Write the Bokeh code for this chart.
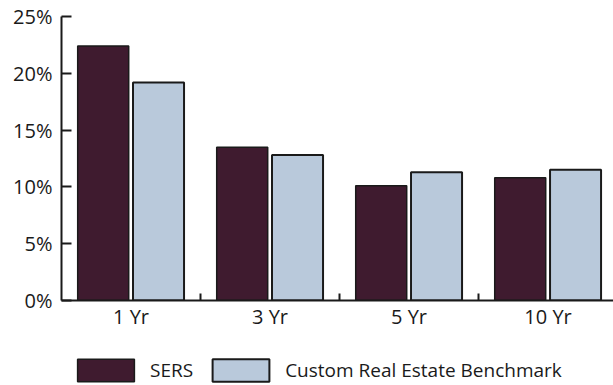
from bokeh.plotting import figure
from bokeh.layouts import column
from bokeh.models import ColumnDataSource, Range1d, FixedTicker, Legend, LegendItem
from bokeh.embed import file_html
from bokeh.resources import INLINE

# Annualized returns by period (percent)
periods = ["1 Yr", "3 Yr", "5 Yr", "10 Yr"]
sers = [22.4, 13.5, 10.1, 10.8]
benchmark = [19.2, 12.8, 11.3, 11.5]
y_ticks = [0, 5, 10, 15, 20, 25]
y_tick_labels = ["0%", "5%", "10%", "15%", "20%", "25%"]
series_names = ["SERS", "Custom Real Estate Benchmark"]

SERS_COLOR = "#3f1b2f"
BENCH_COLOR = "#b9c9db"
INK = "#1a1a1a"
FONT = "Open Sans"
FONT_SIZE = "20px"

centers = [i + 0.5 for i in range(len(periods))]
src = ColumnDataSource(dict(
    x_sers=[c - 0.2 for c in centers],
    x_bench=[c + 0.198 for c in centers],
    sers=sers,
    bench=benchmark,
))

sers_style = dict(fill_color=SERS_COLOR, line_color=INK, line_width=1.5)
bench_style = dict(fill_color=BENCH_COLOR, line_color=INK, line_width=2)

p = figure(width=613, height=340, output_backend="svg", toolbar_location=None,
           x_range=Range1d(0, 3.971), y_range=Range1d(0, 25))
p.min_border_left = 61
p.min_border_right = 0
p.min_border_top = 16
p.min_border_bottom = 40
p.outline_line_color = None
p.xgrid.visible = False
p.ygrid.visible = False

p.vbar(x="x_sers", top="sers", width=0.367, bottom=0, source=src, **sers_style)
p.vbar(x="x_bench", top="bench", width=0.367, bottom=0, source=src, **bench_style)

# x axis: period labels at group centers, small inside ticks between groups
xa = p.xaxis[0]
xa.ticker = FixedTicker(ticks=centers, minor_ticks=[1, 2, 3])
xa.major_label_overrides = {c: lab for c, lab in zip(centers, periods)}
xa.major_tick_line_color = None
xa.minor_tick_in = 7
xa.minor_tick_out = 0
xa.minor_tick_line_width = 2
xa.minor_tick_line_color = INK
xa.axis_line_width = 2
xa.axis_line_color = INK
xa.major_label_standoff = -4
xa.major_label_text_font = FONT
xa.major_label_text_font_size = FONT_SIZE
xa.major_label_text_color = INK

# y axis: percentage ticks pointing into the plot
ya = p.yaxis[0]
ya.ticker = FixedTicker(ticks=y_ticks, minor_ticks=[])
ya.major_label_overrides = {t: lab for t, lab in zip(y_ticks, y_tick_labels)}
ya.major_tick_in = 10
ya.major_tick_out = 0
ya.major_tick_line_width = 2
ya.major_tick_line_color = INK
ya.axis_line_width = 2
ya.axis_line_color = INK
ya.major_label_standoff = 9
ya.major_label_text_font = FONT
ya.major_label_text_font_size = FONT_SIZE
ya.major_label_text_color = INK

# Legend strip under the chart; its key renderers stay hidden and only
# lend their styling to the legend swatches.
lg = figure(width=613, height=45, output_backend="svg", toolbar_location=None,
            x_axis_type=None, y_axis_type=None,
            x_range=Range1d(0, 1), y_range=Range1d(0, 1))
lg.min_border_left = 61
lg.min_border_right = 0
lg.min_border_top = 0
lg.min_border_bottom = 0
lg.outline_line_color = None
k_sers = lg.vbar(x="x_sers", top="sers", width=0.367, source=src, visible=False, **sers_style)
k_bench = lg.vbar(x="x_bench", top="bench", width=0.367, source=src, visible=False, **bench_style)

legend = Legend(
    items=[LegendItem(label=series_names[0], renderers=[k_sers]),
           LegendItem(label=series_names[1], renderers=[k_bench])],
    orientation="horizontal",
    location=(9, 1),
    glyph_width=71, glyph_height=28,
    label_standoff=9, spacing=12,
    padding=0, margin=0,
    border_line_color=None, background_fill_alpha=0,
    label_text_font=FONT, label_text_font_size="19px", label_text_color=INK,
)
lg.add_layout(legend, "center")

layout = column(p, lg, spacing=0)
open("out.html", "w").write(file_html(layout, INLINE))
